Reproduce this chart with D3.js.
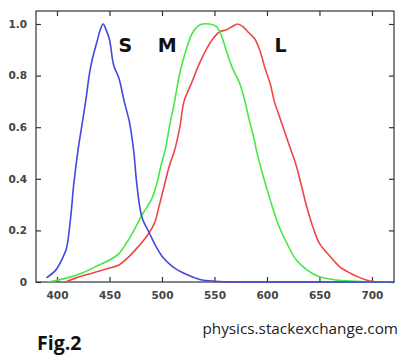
<!DOCTYPE html>
<html><head><meta charset="utf-8">
<script src="https://cdn.jsdelivr.net/npm/d3@7"></script>
<style>body{margin:0;background:#fff}svg{display:block}</style>
</head><body>
<svg id="c" width="398" height="356"></svg>
<script>
const xTicks = [400,450,500,550,600,650,700];
const yTicks = [0,0.2,0.4,0.6,0.8,1.0];
const sWave = [390,399,405,409,413,416,420,425,428,431,434,438,441,444,447,450,454,459,464,469,473,476,481,488,494,500,510,523,536,550,580,620,660,700,720];
const sVal  = [0.016,0.047,0.09,0.13,0.25,0.38,0.51,0.64,0.72,0.81,0.87,0.93,0.975,1.0,0.975,0.94,0.84,0.79,0.70,0.62,0.51,0.38,0.25,0.19,0.14,0.10,0.06,0.03,0.01,0.003,0,0,0,0,0];
const mWave = [392,409,424,440,450,459,466,472,481,490,495,499,503,507,512,517,523,529,536,545,552,557,561,567,574,579,583,588,590,595,600,606,612,619,628,638,650,666,686,700,720];
const mVal  = [0,0.015,0.035,0.066,0.085,0.11,0.15,0.19,0.26,0.32,0.38,0.45,0.51,0.60,0.70,0.81,0.90,0.965,0.996,1.0,0.99,0.95,0.90,0.83,0.77,0.70,0.63,0.55,0.51,0.43,0.36,0.28,0.21,0.15,0.085,0.047,0.02,0.008,0.003,0,0];
const lWave = [408,418,434,450,459,469,478,486,493,497,502,507,512,517,521,528,536,542,548,555,561,567,572,577,583,588,593,598,603,607,612,617,623,628,633,638,644,650,660,669,679,689,698,705,720];
const lVal  = [0,0.016,0.035,0.054,0.066,0.10,0.14,0.18,0.23,0.29,0.37,0.45,0.51,0.60,0.70,0.77,0.85,0.90,0.94,0.97,0.977,0.99,1.0,0.99,0.965,0.945,0.90,0.83,0.77,0.70,0.64,0.58,0.51,0.45,0.37,0.29,0.21,0.15,0.10,0.06,0.035,0.016,0.004,0,0];
const labels = ["S","M","L"];
const labelWave = [465,505,613];

const svg = d3.select("#c");
const L=36,R=394,T=11,B=282;
const x = d3.scaleLinear().domain([380,721]).range([L,R]);
const y = d3.scaleLinear().domain([0,1]).range([B,24]);

svg.append("rect").attr("x",L).attr("y",T).attr("width",R-L).attr("height",B-T)
  .attr("fill","#fff").attr("stroke","#333").attr("stroke-width",1.2);

const fmtY = d => d===0 ? "0" : d3.format(".1f")(d);
const gx = svg.append("g").attr("transform",`translate(0,${B})`)
  .call(d3.axisBottom(x).tickValues(xTicks).tickSize(-5).tickPadding(10));
const gxt = svg.append("g").attr("transform",`translate(0,${T})`)
  .call(d3.axisTop(x).tickValues(xTicks).tickSize(-5).tickFormat(""));
const gy = svg.append("g").attr("transform",`translate(${L},0)`)
  .call(d3.axisLeft(y).tickValues(yTicks).tickSize(-5).tickPadding(9).tickFormat(fmtY));
const gyr = svg.append("g").attr("transform",`translate(${R},0)`)
  .call(d3.axisRight(y).tickValues(yTicks).tickSize(-5).tickFormat(""));
[gx,gxt,gy,gyr].forEach(g=>{
  g.select(".domain").remove();
  g.selectAll("line").attr("stroke","#333").attr("stroke-width",1.2);
  g.selectAll("text").attr("fill","#444").style("font-family","'DejaVu Sans',sans-serif").style("font-size","10.5px").style("font-weight","bold");
});

const line = d3.line().x(d=>x(d[0])).y(d=>y(d[1])).curve(d3.curveCatmullRom.alpha(0.5));
const series = [
  {w:lWave,v:lVal,c:"#f04646"},
  {w:mWave,v:mVal,c:"#46e846"},
  {w:sWave,v:sVal,c:"#4646e0"}
];
series.forEach(s=>{
  svg.append("path").datum(d3.zip(s.w,s.v)).attr("d",line)
    .attr("fill","none").attr("stroke",s.c).attr("stroke-width",1.6);
});

labels.forEach((t,i)=>{
  svg.append("text").attr("x",x(labelWave[i])).attr("y",52).attr("text-anchor","middle")
    .style("font-family","'DejaVu Sans',sans-serif").style("font-size","19px").style("font-weight","bold")
    .attr("fill","#111").text(t);
});

svg.append("text").attr("x",398).attr("y",334).attr("text-anchor","end")
  .style("font-family","'Open Sans',sans-serif").style("font-size","15.3px").attr("fill","#222")
  .text("physics.stackexchange.com");
svg.append("text").attr("x",37).attr("y",350)
  .style("font-family","'Open Sans',sans-serif").style("font-size","19.5px").style("font-weight","bold").attr("fill","#111")
  .text("Fig.2");
</script>
</body></html>
